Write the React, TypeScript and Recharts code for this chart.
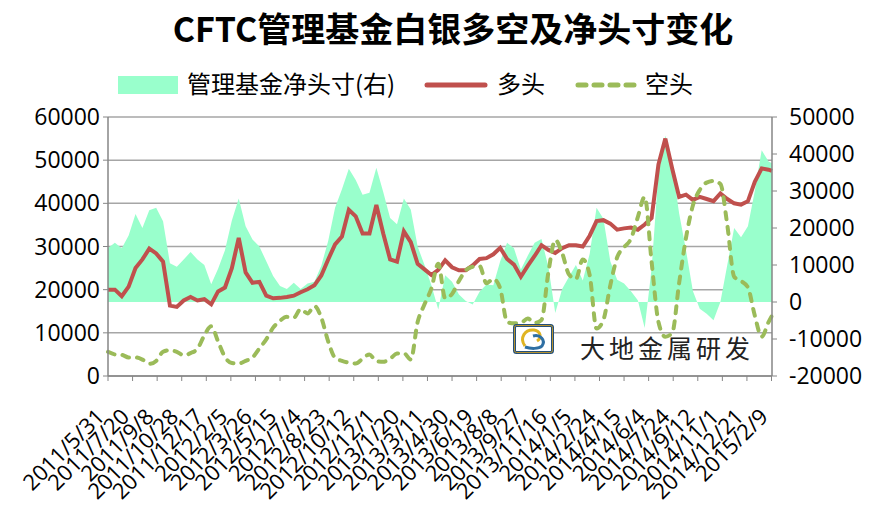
import { ComposedChart, Area, Line, XAxis, YAxis, CartesianGrid } from "recharts";

// weekly CFTC data, sampled every other week from 2011/5/31 (last point = 2015/2/10)
const weeks = [...Array.from({ length: 97 }, (_, i) => i * 2), 193];

// managed money long (left axis)
const longPos = [
  20000, 20000, 18500, 20700, 25000, 27000, 29500, 28400, 26500, 16300,
  16000, 17500, 18300, 17500, 17800, 16600, 19600, 20500, 25000, 32000,
  24000, 21600, 21800, 18600, 18000, 18100, 18300, 18600, 19400, 20100,
  21000, 23300, 27000, 30500, 32300, 38500, 37000, 33000, 33000, 39600,
  33000, 27000, 26500, 33500, 31000, 26000, 24700, 23400, 24600, 26800,
  25200, 24500, 24500, 25600, 27100, 27300, 28200, 29700, 27100, 25800,
  23000, 25500, 27800, 30300, 29200, 28500, 29600, 30300, 30300, 30000,
  32500, 35900, 36100, 35300, 33900, 34200, 34400, 33900, 35100, 36600,
  49000, 55000, 48000, 41500, 42000, 40800, 41500, 41000, 40500, 42300,
  41000, 40000, 39700, 40500, 45000, 48100, 47800, 47500,
];

// managed money short (left axis)
const shortPos = [
  5600, 5000, 4900, 4300, 4300, 3800, 2800, 3500, 5600, 6000,
  5600, 4800, 5300, 6300, 9400, 11500, 8000, 4400, 3000, 2900,
  3500, 4300, 6400, 8500, 11200, 12800, 13700, 13500, 15500, 14500,
  16200, 13500, 8000, 4200, 3500, 3100, 2900, 4000, 5000, 3400,
  3300, 4000, 5200, 5300, 3800, 12500, 16600, 20300, 26000, 18000,
  19000, 22000, 24500, 25300, 25500, 21500, 22500, 20300, 12500, 12200,
  12300, 13300, 12300, 13000, 24000, 31500, 28500, 23500, 22500, 27000,
  23400, 11000, 13000, 21000, 27500, 29800, 31800, 36800, 41500, 26500,
  12500, 9100, 10000, 21500, 32000, 39500, 43100, 44800, 45200, 44500,
  35000, 23000, 22000, 20500, 14000, 9100, 12500, 14000,
];

// managed money net position (right axis)
const netPos = [
  14600, 16000, 14500, 18000, 23800, 20000, 24800, 25500, 21800, 10500,
  9500, 11500, 13500, 11500, 10000, 4800, 9000, 14000, 22000, 28000,
  20500, 16900, 15000, 11000, 7000, 4300, 3500, 5200, 3500, 5000,
  5500, 9800, 16500, 25500, 30500, 36000, 33000, 29000, 29500, 36300,
  29700, 22700, 21000, 28000, 25000, 15000, 10000, 4500, -2000, 7200,
  5500, 2000, 300, -700, 2800, 4700, 4500, 11000, 16000, 14500,
  8800, 12500, 16000, 17000, 9500, -3000, 3500, 6800, 10000, 5800,
  13000, 25500, 22500, 11000, 6000, 5000, 2900, 500, -7000, 9000,
  35000, 45000, 37000, 24000, 14000, 3000, -1800, -3200, -4900, 0,
  10000, 20000, 17500, 20500, 30000, 41000, 38000, 37500,
];

const leftTicks = [0, 10000, 20000, 30000, 40000, 50000, 60000];
const rightTicks = [-20000, -10000, 0, 10000, 20000, 30000, 40000, 50000];
const dateTicks = Array.from({ length: 28 }, (_, i) => i * 50);

const rows = weeks.map((w, i) => ({
  day: w * 7,
  long: longPos[i],
  short: shortPos[i],
  net: netPos[i],
}));

const fmtDate = (d: number) => {
  const t = new Date(Date.UTC(2011, 4, 31) + d * 86400000);
  return `${t.getUTCFullYear()}/${t.getUTCMonth() + 1}/${t.getUTCDate()}`;
};

const sans = "'Open Sans', 'Noto Sans CJK SC', sans-serif";
const cjk = "'Noto Sans CJK SC', sans-serif";

function DateTick({ x, payload }: any) {
  const ax = x - 2;
  const ay = 418;
  return (
    <text
      x={ax}
      y={ay}
      transform={`rotate(-45 ${ax} ${ay})`}
      textAnchor="end"
      fontSize={22}
      fontFamily={sans}
      fill="#000"
    >
      {fmtDate(payload.value)}
    </text>
  );
}

function Overlay() {
  return (
    <svg
      width={896}
      height={515}
      style={{ position: "absolute", left: 0, top: 0, pointerEvents: "none" }}
    >
      <text x={453} y={42} textAnchor="middle" fontSize={34} fontWeight="bold" fontFamily={cjk} fill="#000">
        CFTC管理基金白银多空及净头寸变化
      </text>

      <rect x={118} y={76} width={60} height={18} fill="#99FFCC" />
      <text x={187} y={93} fontSize={24} fontFamily={cjk} fill="#000">管理基金净头寸(右)</text>
      <line x1={427} y1={85} x2={485} y2={85} stroke="#C0504D" strokeWidth={5} strokeLinecap="round" />
      <text x={497} y={93} fontSize={24} fontFamily={cjk} fill="#000">多头</text>
      <line x1={578} y1={85} x2={636} y2={85} stroke="#9BBB59" strokeWidth={5} strokeLinecap="round" strokeDasharray="8 8" />
      <text x={645} y={93} fontSize={24} fontFamily={cjk} fill="#000">空头</text>

      {/* watermark */}
      <g transform="translate(513 324)">
        <rect x={1.5} y={1.5} width={38} height={27} rx={2} fill="#fff" stroke="#24507a" strokeWidth={3} />
        <rect x={1.5} y={1.5} width={38} height={27} rx={2} fill="none" stroke="#b8922e" strokeWidth={1} />
        <path d="M12 22 C6 14 12 5 21 6 C28 7 29 14 24 17" fill="none" stroke="#e0b422" strokeWidth={3} />
        <path d="M20 12 C27 10 33 16 29 22 C26 25 18 25 12 23" fill="none" stroke="#2f6fa3" strokeWidth={3} />
      </g>
      <text x={580} y={358} fontSize={25} letterSpacing={4} fontFamily={cjk} fill="#222">大地金属研发</text>
    </svg>
  );
}

export default function App() {
  return (
    <div
      style={{
        position: "absolute",
        left: 0,
        top: 0,
        width: 896,
        height: 515,
        background: "#fff",
        fontFamily: sans,
      }}
    >
      <ComposedChart
        width={896}
        height={515}
        data={rows}
        margin={{ top: 117, right: 24, bottom: 0, left: 8 }}
      >
        <CartesianGrid yAxisId="left" vertical={false} stroke="#a6a6a6" strokeWidth={1.5} />
        <XAxis
          dataKey="day"
          type="number"
          domain={[0, 1351]}
          ticks={dateTicks}
          interval={0}
          height={139}
          tick={<DateTick />}
          axisLine={{ stroke: "#868686", strokeWidth: 1.5 }}
          tickLine={{ stroke: "#868686" }}
          tickSize={5}
        />
        <YAxis
          yAxisId="left"
          domain={[0, 60000]}
          ticks={leftTicks}
          width={100}
          tick={{ fontSize: 23, fill: "#000", fontFamily: sans }}
          axisLine={{ stroke: "#868686", strokeWidth: 1.5 }}
          tickLine={{ stroke: "#868686" }}
          tickSize={5}
          tickMargin={3}
        />
        <YAxis
          yAxisId="right"
          orientation="right"
          domain={[-20000, 50000]}
          ticks={rightTicks}
          width={100}
          tick={{ fontSize: 23, fill: "#000", fontFamily: sans }}
          axisLine={{ stroke: "#868686", strokeWidth: 1.5 }}
          tickLine={{ stroke: "#868686" }}
          tickSize={5}
          tickMargin={12}
        />
        <Area
          yAxisId="right"
          dataKey="net"
          type="linear"
          baseValue={0}
          fill="#99FFCC"
          fillOpacity={1}
          stroke="none"
          isAnimationActive={false}
        />
        <Line
          yAxisId="left"
          dataKey="long"
          type="linear"
          stroke="#C0504D"
          strokeWidth={4}
          dot={false}
          isAnimationActive={false}
        />
        <Line
          yAxisId="left"
          dataKey="short"
          type="monotone"
          stroke="#9BBB59"
          strokeWidth={4}
          strokeDasharray="7 8"
          strokeLinecap="round"
          dot={false}
          isAnimationActive={false}
        />
      </ComposedChart>
      <Overlay />
    </div>
  );
}
